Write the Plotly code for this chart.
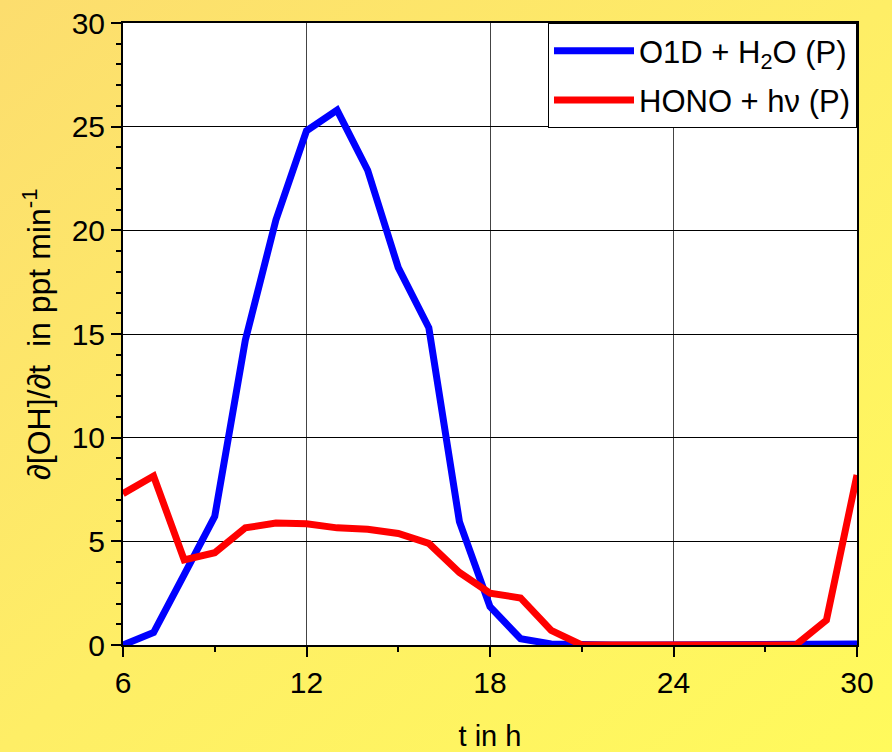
import plotly.graph_objects as go
import urllib.parse

hours = list(range(6, 31))
o1d_h2o = [0.0, 0.6, 3.4, 6.2, 14.7, 20.5, 24.8, 25.8, 22.9, 18.2, 15.3, 5.95, 1.85, 0.3,
           0.05, 0.0, 0.0, 0.0, 0.0, 0.0, 0.0, 0.0, 0.0, 0.0, 0.05]
hono_hv = [7.3, 8.15, 4.1, 4.45, 5.65, 5.88, 5.85, 5.65, 5.58, 5.38, 4.9, 3.5, 2.5, 2.27,
           0.7, 0.0, 0.0, 0.0, 0.0, 0.0, 0.0, 0.0, 0.0, 1.2, 8.2]
x_ticks = [6, 12, 18, 24, 30]
y_ticks = [0, 5, 10, 15, 20, 25, 30]
x_title = "t in h"
y_title = "∂[OH]/∂t  in ppt min<sup>-1</sup>"

W, H = 892, 752
ml, mr, mt, mb = 123, 35, 23, 107
pw, ph = W - ml - mr, H - mt - mb

svg = ('<svg xmlns="http://www.w3.org/2000/svg" width="892" height="752">'
       '<defs><linearGradient id="g" x1="0" y1="0" x2="1" y2="1">'
       '<stop offset="0" stop-color="#FCDD6E"/><stop offset="0.5" stop-color="#FEEE66"/>'
       '<stop offset="1" stop-color="#FFFA5C"/></linearGradient></defs>'
       '<rect width="892" height="752" fill="url(#g)"/></svg>')
src = "data:image/svg+xml;charset=utf-8," + urllib.parse.quote(svg)

fig = go.Figure()
fig.add_trace(go.Scatter(x=hours, y=o1d_h2o, mode="lines", name="O1D + H<sub>2</sub>O (P)",
                         line=dict(color="#0000FF", width=7), legendgroup="a"))
fig.add_trace(go.Scatter(x=hours, y=hono_hv, mode="lines", name="HONO + hν (P)",
                         line=dict(color="#FF0000", width=7), legendgroup="b"))

font = dict(family="Liberation Sans, Arial, sans-serif", size=30, color="black")
fig.update_layout(
    width=W, height=H,
    margin=dict(l=ml, r=mr, t=mt, b=mb),
    paper_bgcolor="#FEEE66",
    plot_bgcolor="white",
    font=font,
    images=[dict(source=src, xref="paper", yref="paper", x=-ml / pw, y=1 + mt / ph,
                 sizex=W / pw, sizey=H / ph, sizing="stretch", xanchor="left",
                 yanchor="top", layer="below")],
    shapes=[dict(type="rect", xref="paper", yref="paper", x0=0, x1=1, y0=0, y1=1,
                 fillcolor="white", line=dict(width=0), layer="below")],
    annotations=[dict(text=y_title, xref="paper", yref="paper", x=(37 - ml) / pw, y=0.5,
                      xanchor="center", yanchor="middle", textangle=-90, showarrow=False,
                      font=dict(size=32))],
    xaxis=dict(range=[6, 30], tickvals=x_ticks, ticks="outside", ticklen=10, tickwidth=1.5,
               tickcolor="black", showline=True, linecolor="black", linewidth=2, mirror=True,
               showgrid=True, gridcolor="#444", gridwidth=1, zeroline=False, automargin=False,
               minor=dict(dtick=3, tick0=6, ticks="outside", ticklen=5, tickcolor="black",
                          showgrid=False),
               title=dict(text=x_title, standoff=30, font=dict(size=29))),
    yaxis=dict(range=[0, 30], tickvals=y_ticks, ticks="outside", ticklen=10, tickwidth=1.5,
               tickcolor="black", showline=True, linecolor="black", linewidth=2, mirror=True,
               showgrid=True, gridcolor="black", gridwidth=1, zeroline=False, automargin=False,
               minor=dict(dtick=1, tick0=0, ticks="outside", ticklen=5, tickcolor="black",
                          showgrid=False)),
    legend=dict(x=1, y=1, xanchor="right", yanchor="top", bgcolor="white",
                bordercolor="black", borderwidth=1, font=dict(size=31), itemwidth=80,
                tracegroupgap=6),
    showlegend=True,
)
fig.write_html("out.html")
